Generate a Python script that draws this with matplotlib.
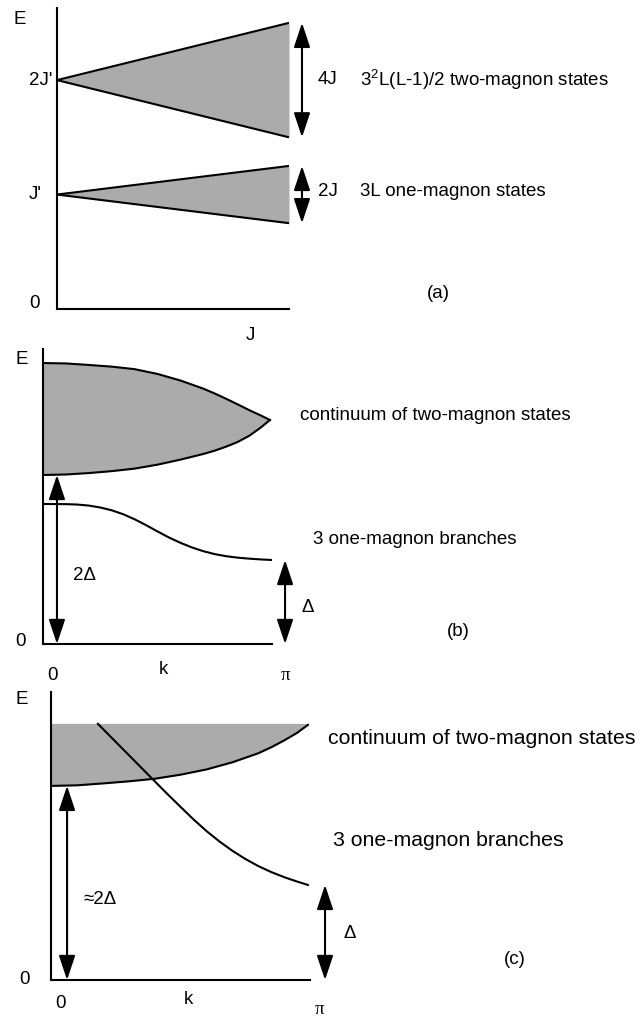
import matplotlib
matplotlib.use("Agg")
import matplotlib.pyplot as plt

plt.rcParams['font.family'] = ['Liberation Sans', 'DejaVu Sans']
plt.rcParams['mathtext.fontset'] = 'custom'
plt.rcParams['mathtext.rm'] = 'Liberation Sans'

W, H = 641, 1026
SHADE = '#ababab'
FS = 13.5

# (a) level fans vs coupling J (energies in units of J')
a_j = [0.0, 1.0]
a_one_lo = [1.0, 0.75]
a_one_hi = [1.0, 1.25]
a_two_lo = [2.0, 1.5]
a_two_hi = [2.0, 2.5]
a_levels = [0, 1, 2]
a_level_labels = ['0', "J'", "2J'"]

# (b) dispersion, k in units of pi, E in units of Delta
b_cont_k = [0.0, 0.1, 0.2, 0.3, 0.4, 0.5, 0.6, 0.7, 0.75, 0.8, 0.85, 0.9, 0.95, 0.991]
b_cont_top = [3.345, 3.340, 3.322, 3.302, 3.272, 3.215, 3.137, 3.040, 2.982, 2.919,
              2.853, 2.785, 2.722, 2.667]
b_cont_bot = [2.012, 2.018, 2.035, 2.058, 2.088, 2.135, 2.195, 2.262, 2.302, 2.350,
              2.405, 2.478, 2.575, 2.667]
b_mag_k = [0.0, 0.1, 0.15, 0.2, 0.25, 0.3, 0.35, 0.4, 0.45, 0.5, 0.55, 0.6, 0.65, 0.7,
           0.75, 0.8, 0.85, 0.9, 0.95, 1.0]
b_mag_E = [1.667, 1.665, 1.660, 1.648, 1.625, 1.592, 1.545, 1.485, 1.415, 1.340, 1.268,
           1.205, 1.150, 1.105, 1.070, 1.045, 1.028, 1.016, 1.007, 1.000]

# (c) dispersion, magnon branch enters the continuum
c_cont_k = [0.0, 0.1, 0.2, 0.3, 0.4, 0.5, 0.6, 0.7, 0.8, 0.85, 0.9, 0.95, 0.992]
c_cont_bot = [2.042, 2.048, 2.068, 2.090, 2.117, 2.160, 2.215, 2.290, 2.385, 2.448,
              2.520, 2.600, 2.684]
c_cont_top = 2.70
c_mag_k = [0.181, 0.25, 0.30, 0.35, 0.40, 0.45, 0.50, 0.55, 0.60, 0.65, 0.70, 0.75,
           0.80, 0.85, 0.90, 0.95, 0.992]
c_mag_E = [2.695, 2.505, 2.368, 2.230, 2.092, 1.955, 1.822, 1.690, 1.568, 1.458, 1.360,
           1.274, 1.199, 1.136, 1.082, 1.036, 1.000]

fig = plt.figure(figsize=(W / 100, H / 100), dpi=100)


def panel(left, top, right, bottom, ymax):
    ax = fig.add_axes([left / W, 1 - bottom / H, (right - left) / W, (bottom - top) / H])
    ax.spines[['top', 'right']].set_visible(False)
    ax.spines[['left', 'bottom']].set_linewidth(1.5)
    ax.set_xticks([])
    ax.set_yticks([])
    ax.set_xlim(0, 1)
    ax.set_ylim(0, ymax)
    ax.patch.set_alpha(0)
    return ax


def double_arrow(ax, x, y0, y1):
    ax.annotate('', xy=(x, y1), xytext=(x, y0), annotation_clip=False,
                arrowprops=dict(arrowstyle='<|-|>,head_length=1.5,head_width=0.5',
                                mutation_scale=10, lw=1.5, color='black',
                                shrinkA=0, shrinkB=0))


def label(x, y, s, size=FS, ha='center', **kw):
    fig.text(x / W, 1 - y / H, s, fontsize=size, ha=ha, va='center', **kw)


# ---- (a)
ax = panel(57, 8, 289, 309, 2.63)
ax.fill_between(a_j, a_two_lo, a_two_hi, color=SHADE, lw=0)
ax.fill_between(a_j, a_one_lo, a_one_hi, color=SHADE, lw=0)
for ys in (a_two_lo, a_two_hi, a_one_lo, a_one_hi):
    ax.plot(a_j, ys, color='black', lw=1.5, solid_capstyle='butt')
double_arrow(ax, 1.056, a_two_lo[-1], a_two_hi[-1])
double_arrow(ax, 1.056, a_one_lo[-1], a_one_hi[-1])
for v, s in zip(a_levels, a_level_labels):
    ax.text(-0.12, v + (0.05 if v == 0 else 0), s, transform=ax.get_yaxis_transform(),
            fontsize=FS, ha='left', va='center')
label(20, 19, 'E')
label(250, 335, 'J')
label(318, 80, '4J', ha='left')
label(360, 80, r'3$^{\mathregular{2}}$L(L-1)/2 two-magnon states', ha='left')
label(318, 191, '2J', ha='left')
label(360, 191, '3L one-magnon states', ha='left')
label(438, 294, '(a)')

# ---- (b)
ax = panel(43, 349, 272, 644, 3.512)
ax.fill_between(b_cont_k, b_cont_bot, b_cont_top, color=SHADE, lw=0)
ax.plot(b_cont_k, b_cont_top, color='black', lw=1.5)
ax.plot(b_cont_k, b_cont_bot, color='black', lw=1.5)
ax.plot(b_mag_k, b_mag_E, color='black', lw=1.5)
double_arrow(ax, 0.061, 0, b_cont_bot[0])
double_arrow(ax, 1.057, 0, b_mag_E[-1])
label(22, 359, 'E')
label(21, 641, '0')
label(73, 575, '2Δ', ha='left')
label(302, 607, 'Δ', ha='left')
label(300, 415, 'continuum of two-magnon states', ha='left')
label(313, 540, '3 one-magnon branches', ha='left')
label(458, 632, '(b)')
label(52, 675, '0')
label(163, 670, 'k')
label(285, 676, 'π', family='Liberation Serif')

# ---- (c)
ax = panel(51, 692, 310, 980, 3.03)
ax.fill_between(c_cont_k, c_cont_bot, c_cont_top, color=SHADE, lw=0)
ax.plot(c_cont_k, c_cont_bot, color='black', lw=1.5)
ax.plot(c_mag_k, c_mag_E, color='black', lw=1.5)
double_arrow(ax, 0.062, 0, c_cont_bot[0])
double_arrow(ax, 1.058, 0, c_mag_E[-1])
label(22, 699, 'E')
label(24, 979, '0')
label(83, 900, '≈2Δ', ha='left')
label(343, 933, 'Δ', ha='left')
label(328, 738, 'continuum of two-magnon states', size=15.3, ha='left')
label(333, 840, '3 one-magnon branches', size=15.3, ha='left')
label(515, 959, '(c)')
label(60, 1004, '0')
label(188, 1000, 'k')
label(319, 1010, 'π', family='Liberation Serif')

fig.savefig('out.png', dpi=100)
